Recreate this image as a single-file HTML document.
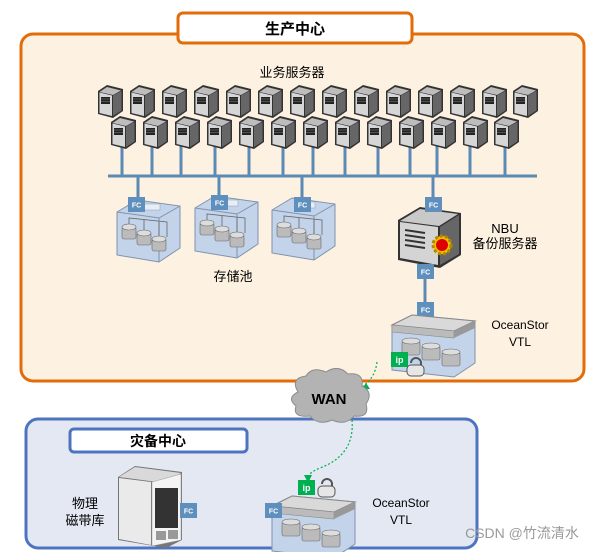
<!DOCTYPE html>
<html><head><meta charset="utf-8"><style>
html,body{margin:0;padding:0;background:#fff}
svg{display:block}
text{font-family:"Liberation Sans","Noto Sans CJK SC",sans-serif}
</style></head><body>
<svg width="605" height="552" viewBox="0 0 605 552" xmlns="http://www.w3.org/2000/svg">
<defs>
<g id="srv">
<path d="M0,6 L9,0 L25,4 L25,26 L15,33 L0,29 Z" fill="#333"/>
<path d="M1.5,7 L9,2 L23,5.5 L15,10 Z" fill="#bdbdbd"/>
<path d="M1.5,7.5 L14,10.5 L14,31 L1.5,28 Z" fill="#d6d6d6"/>
<path d="M15,10.5 L23.5,6 L23.5,25.5 L15,31 Z" fill="#666"/>
<rect x="3" y="12" width="9" height="7" fill="#222"/>
<line x1="3" y1="14" x2="12" y2="14" stroke="#777" stroke-width="0.6"/>
<line x1="3" y1="16.5" x2="12" y2="16.5" stroke="#777" stroke-width="0.6"/>
</g>
<g id="fc">
<rect x="0" y="0" width="17" height="15" fill="#5f8fbd"/>
<text x="8.5" y="10.5" font-size="7" font-weight="bold" fill="#fff" text-anchor="middle">FC</text>
</g>
<g id="pool">
<path d="M0,12 L20,0 L63,6 L63,48 L42,62 L0,55 Z" fill="#c3d3ea" stroke="#7f93ad" stroke-width="1"/>
<path d="M0,12 L42,18 L63,6" fill="none" stroke="#7f93ad"/>
<line x1="42" y1="18" x2="42" y2="62" stroke="#7f93ad"/>
<rect x="25" y="4" width="18" height="6" fill="#e8eef6" stroke="#9aa8bb" stroke-width="0.6"/>
<g fill="#bbb" stroke="#666" stroke-width="0.6">
<rect x="5" y="27" width="14" height="12" rx="2"/><ellipse cx="12" cy="27" rx="7" ry="3" fill="#ddd"/>
<rect x="20" y="33" width="14" height="12" rx="2"/><ellipse cx="27" cy="33" rx="7" ry="3" fill="#ddd"/>
<rect x="35" y="39" width="14" height="12" rx="2"/><ellipse cx="42" cy="39" rx="7" ry="3" fill="#ddd"/>
</g>
<path d="M12,24 L12,18 L50,22 L50,37 M27,30 L27,20 M42,36 L42,22" fill="none" stroke="#666" stroke-width="0.8"/>
</g>
<g id="vtl">
<path d="M0,10 L20,0 L83,6 L83,48 L62,62 L0,55 Z" fill="#c3d3ea" stroke="#7f93ad"/>
<path d="M0,10 L20,0 L83,6 L62,16 Z" fill="#d9d9d9" stroke="#888"/>
<path d="M0,10 L62,16 L62,23 L0,17 Z" fill="#bbb" stroke="#888" stroke-width="0.6"/>
<path d="M62,16 L83,6 L83,13 L62,23 Z" fill="#999"/>
<g fill="#bbb" stroke="#666" stroke-width="0.6">
<rect x="10" y="26" width="18" height="14" rx="2"/><ellipse cx="19" cy="26" rx="9" ry="3" fill="#ddd"/>
<rect x="30" y="31" width="18" height="14" rx="2"/><ellipse cx="39" cy="31" rx="9" ry="3" fill="#ddd"/>
<rect x="50" y="37" width="18" height="14" rx="2"/><ellipse cx="59" cy="37" rx="9" ry="3" fill="#ddd"/>
</g>
</g>
<g id="lock">
<path d="M5,6 a5,5 0 0 1 10,0 v3" fill="none" stroke="#555" stroke-width="2"/>
<rect x="1" y="8" width="17" height="11" rx="4" fill="#e6e6e6" stroke="#555"/>
</g>
<g id="ip">
<rect x="0" y="0" width="17" height="15" fill="#00b050"/>
<text x="8.5" y="11" font-size="9" font-weight="bold" fill="#fff" text-anchor="middle">ip</text>
</g>
</defs>

<!-- production -->
<rect x="21" y="34" width="563" height="347" rx="12" fill="#fdf2e2" stroke="#e36c0a" stroke-width="3"/>
<rect x="178" y="13" width="234" height="30" rx="5" fill="#fff" stroke="#e36c0a" stroke-width="3"/>
<text x="295" y="34" font-size="15" font-weight="bold" text-anchor="middle" fill="#000">生产中心</text>
<text x="292" y="77" font-size="13" text-anchor="middle" fill="#000">业务服务器</text>

<g stroke="#5b8ab5" stroke-width="3">
<line x1="108" y1="176" x2="537" y2="176"/>
<line x1="122" y1="140" x2="122" y2="176"/><line x1="152" y1="140" x2="152" y2="176"/>
<line x1="181" y1="140" x2="181" y2="176"/><line x1="215" y1="140" x2="215" y2="176"/>
<line x1="249" y1="140" x2="249" y2="176"/><line x1="283" y1="140" x2="283" y2="176"/>
<line x1="313" y1="140" x2="313" y2="176"/><line x1="345" y1="140" x2="345" y2="176"/>
<line x1="378" y1="140" x2="378" y2="176"/><line x1="410" y1="140" x2="410" y2="176"/>
<line x1="437" y1="140" x2="437" y2="176"/><line x1="470" y1="140" x2="470" y2="176"/>
<line x1="505" y1="140" x2="505" y2="176"/>
<line x1="138" y1="176" x2="138" y2="200"/><line x1="219" y1="176" x2="219" y2="196"/>
<line x1="302" y1="176" x2="302" y2="198"/><line x1="433" y1="176" x2="433" y2="205"/>
<line x1="425" y1="270" x2="425" y2="310"/>
<line x1="190" y1="511" x2="272" y2="511"/>
</g>

<g>
<use href="#srv" x="98" y="85"/><use href="#srv" x="130" y="85"/><use href="#srv" x="162" y="85"/>
<use href="#srv" x="194" y="85"/><use href="#srv" x="226" y="85"/><use href="#srv" x="258" y="85"/>
<use href="#srv" x="290" y="85"/><use href="#srv" x="322" y="85"/><use href="#srv" x="354" y="85"/>
<use href="#srv" x="386" y="85"/><use href="#srv" x="418" y="85"/><use href="#srv" x="450" y="85"/>
<use href="#srv" x="482" y="85"/><use href="#srv" x="513" y="85"/>
<use href="#srv" x="111" y="116"/><use href="#srv" x="143" y="116"/><use href="#srv" x="175" y="116"/>
<use href="#srv" x="207" y="116"/><use href="#srv" x="239" y="116"/><use href="#srv" x="271" y="116"/>
<use href="#srv" x="303" y="116"/><use href="#srv" x="335" y="116"/><use href="#srv" x="367" y="116"/>
<use href="#srv" x="399" y="116"/><use href="#srv" x="431" y="116"/><use href="#srv" x="463" y="116"/>
<use href="#srv" x="494" y="116"/>
</g>

<use href="#pool" x="117" y="200"/><use href="#pool" x="195" y="196"/><use href="#pool" x="272" y="198"/>
<use href="#fc" x="128" y="197"/><use href="#fc" x="211" y="195"/><use href="#fc" x="294" y="197"/>
<text x="233" y="281" font-size="13" text-anchor="middle" fill="#000">存储池</text>

<!-- NBU server -->
<path d="M398,220 L420,207 L461,213 L461,255 L440,268 L398,260 Z" fill="#333"/>
<path d="M400,221 L420,209 L458,214 L439,226 Z" fill="#c9c9c9"/>
<path d="M400,222 L438,227 L438,265 L400,258 Z" fill="#d4d4d4"/>
<path d="M440,227 L459,215 L459,254 L440,265 Z" fill="#666"/>
<g stroke="#333" stroke-width="2"><line x1="405" y1="230" x2="425" y2="233"/><line x1="405" y1="235" x2="425" y2="238"/><line x1="405" y1="240" x2="425" y2="243"/><line x1="405" y1="245" x2="425" y2="248"/></g>
<circle cx="442" cy="245" r="9" fill="#f0c000" stroke="#b08800" stroke-dasharray="3 2" stroke-width="3"/>
<circle cx="442" cy="245" r="6" fill="#e00000"/>
<use href="#fc" x="425" y="197"/><use href="#fc" x="417" y="264"/><use href="#fc" x="417" y="302"/>
<text x="505" y="233" font-size="13" text-anchor="middle" fill="#000">NBU</text>
<text x="505" y="248" font-size="13" text-anchor="middle" fill="#000">备份服务器</text>

<use href="#vtl" x="392" y="315"/>
<use href="#ip" x="391" y="352"/><use href="#lock" x="406" y="357"/>
<text x="520" y="329" font-size="12" text-anchor="middle" fill="#000">OceanStor</text>
<text x="520" y="346" font-size="12" text-anchor="middle" fill="#000">VTL</text>

<!-- DR -->
<rect x="26" y="419" width="451" height="129" rx="12" fill="#e3e8f2" stroke="#4f74bf" stroke-width="3"/>
<rect x="70" y="429" width="177" height="23" rx="4" fill="#fff" stroke="#4f74bf" stroke-width="3"/>
<text x="158" y="446" font-size="14" font-weight="bold" text-anchor="middle" fill="#000">灾备中心</text>

<!-- tape lib -->
<path d="M118,477 L135,466 L182,472 L182,540 L166,548 L118,540 Z" fill="#777"/>
<path d="M119,477 L135,467 L181,473 L165,483 Z" fill="#d9d9d9"/>
<path d="M119,478 L151,482 L151,545 L119,539 Z" fill="#eaeaea"/>
<path d="M152,482 L181,474 L181,540 L152,546 Z" fill="#f4f4f4" stroke="#999" stroke-width="0.5"/>
<rect x="155" y="488" width="23" height="40" fill="#333"/>
<rect x="156" y="531" width="10" height="9" fill="#999"/><rect x="168" y="530" width="10" height="9" fill="#999"/>
<use href="#fc" x="180" y="503"/><use href="#fc" x="265" y="503"/>
<text x="85" y="508" font-size="13" text-anchor="middle" fill="#000">物理</text>
<text x="85" y="525" font-size="13" text-anchor="middle" fill="#000">磁带库</text>

<use href="#vtl" x="272" y="496"/>
<use href="#fc" x="265" y="503"/>
<use href="#ip" x="298" y="480"/><use href="#lock" x="317" y="478"/>
<text x="401" y="507" font-size="12" text-anchor="middle" fill="#000">OceanStor</text>
<text x="401" y="524" font-size="12" text-anchor="middle" fill="#000">VTL</text>

<!-- dotted links -->
<path d="M377,362 Q375,378 363,386" fill="none" stroke="#00b050" stroke-width="1.2" stroke-dasharray="2 2"/>
<path d="M366,383 L361,390 L370,389 Z" fill="#00b050"/>
<path d="M352,420 Q355,455 320,468 Q308,473 308,478" fill="none" stroke="#00b050" stroke-width="1.2" stroke-dasharray="2 2"/>
<path d="M304,475 L308,483 L312,475 Z" fill="#00b050"/>

<!-- cloud -->
<path d="M298,392 Q290,378 306,376 Q312,366 326,372 Q338,364 348,374 Q364,372 362,386 Q374,392 366,404 Q370,418 354,416 Q346,426 332,420 Q318,426 310,416 Q292,418 296,406 Q286,398 298,392 Z" fill="#b3b3b3" stroke="#8c8c8c"/>
<text x="329" y="404" font-size="15" font-weight="bold" text-anchor="middle" fill="#000">WAN</text>

<text x="522" y="538" font-size="14" text-anchor="middle" fill="#999">CSDN @竹流清水</text>
</svg>
</body></html>
